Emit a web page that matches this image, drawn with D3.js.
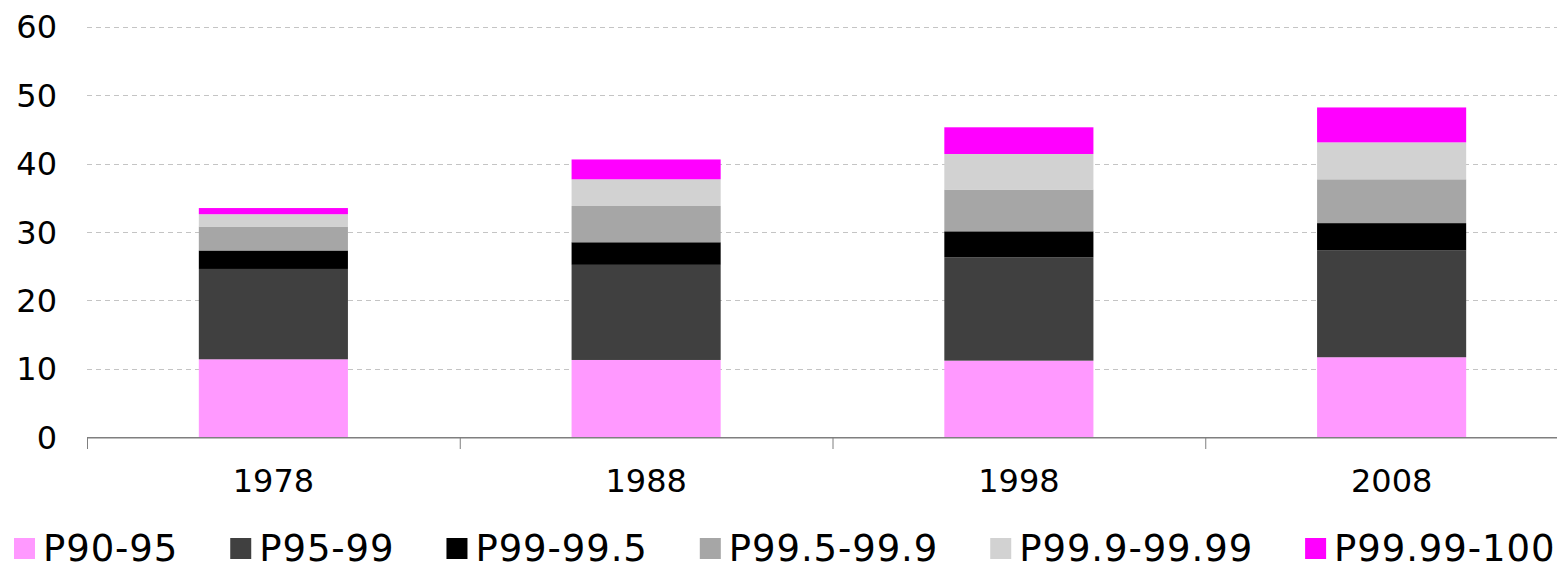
<!DOCTYPE html>
<meta charset="utf-8">
<style>
  body { margin: 0; background: #fff; }
  text { font-family: "DejaVu Sans", Verdana, sans-serif; fill: #000; }
</style>
<svg id="mainsvg" width="1557" height="564"></svg>
<script src="https://d3js.org/d3.v7.min.js"></script>
<script>

// data (share of income, %)
years = ["1978", "1988", "1998", "2008"]
seriesNames = ["P90-95", "P95-99", "P99-99.5", "P99.5-99.9", "P99.9-99.99", "P99.99-100"]
seriesColors = ["#ff99ff", "#404040", "#000000", "#a6a6a6", "#d2d2d2", "#ff00ff"]
p90_95      = [11.4, 11.3, 11.2, 11.7]
p95_99      = [13.2, 13.9, 15.1, 15.6]
p99_995     = [2.7, 3.3, 3.8, 4.0]
p995_999    = [3.5, 5.3, 6.1, 6.4]
p999_9999   = [1.8, 3.9, 5.2, 5.4]
p9999_100   = [0.9, 2.9, 3.9, 5.1]
yTicks = [0, 10, 20, 30, 40, 50, 60]

seriesValues = [p90_95, p95_99, p99_995, p995_999, p999_9999, p9999_100]

// table for d3.stack
table = years.map((y, i) => {
  const row = { year: y }
  seriesNames.forEach((s, j) => { row[s] = seriesValues[j][i] })
  return row
})

const svg = d3.select("#mainsvg")
const W = 1557

const x = d3.scaleBand()
    .domain(years)
    .range([87, 1578])
    .paddingInner(0.6)
    .paddingOuter(0.3)

const y = d3.scaleLinear()
    .domain([0, 60])
    .range([437.3, 26.7])

// grid lines
svg.append("g")
  .selectAll("line")
  .data(yTicks.filter(d => d > 0))
  .join("line")
    .attr("x1", 87)
    .attr("x2", W)
    .attr("y1", d => Math.round(y(d)) + 0.5)
    .attr("y2", d => Math.round(y(d)) + 0.5)
    .attr("stroke", "#c4c4c4")
    .attr("stroke-width", 1)
    .attr("stroke-dasharray", "5,4")

// y labels
svg.append("g")
  .selectAll("text")
  .data(yTicks)
  .join("text")
    .attr("x", 57)
    .attr("y", d => y(d))
    .attr("dy", "0.36em")
    .attr("text-anchor", "end")
    .style("font-size", "32px")
    .text(d => d)

// stacked bars
const stacked = d3.stack().keys(seriesNames)(table)

svg.append("g")
  .selectAll("g")
  .data(stacked)
  .join("g")
    .attr("fill", (d, i) => seriesColors[i])
  .selectAll("rect")
  .data(d => d)
  .join("rect")
    .attr("x", d => x(d.data.year))
    .attr("width", x.bandwidth())
    .attr("y", d => y(d[1]))
    .attr("height", d => y(d[0]) - y(d[1]))

// x axis
const step = x.step()
const axis = svg.append("g").attr("stroke", "#7f7f7f").attr("stroke-width", 1.5)
axis.append("line")
    .attr("x1", 87).attr("x2", W)
    .attr("y1", 437.8).attr("y2", 437.8)
axis.selectAll("line.tick")
  .data(years)
  .join("line")
    .attr("class", "tick")
    .attr("x1", (d, i) => 87 + i * step + 0.5)
    .attr("x2", (d, i) => 87 + i * step + 0.5)
    .attr("y1", 437.8)
    .attr("y2", 449)
    .attr("stroke-width", 1)

svg.append("g")
  .selectAll("text")
  .data(years)
  .join("text")
    .attr("x", d => x(d) + x.bandwidth() / 2)
    .attr("y", 491.7)
    .attr("text-anchor", "middle")
    .style("font-size", "32px")
    .text(d => d)

// legend
const legend = svg.append("g")
let lx = 14
seriesNames.forEach((name, i) => {
  legend.append("rect")
    .attr("x", lx)
    .attr("y", 538)
    .attr("width", 21)
    .attr("height", 21)
    .attr("fill", seriesColors[i])
  const t = legend.append("text")
    .attr("x", lx + 29)
    .attr("y", 560.5)
    .style("font-size", "37px")
    .style("letter-spacing", "0.9px")
    .text(name)
  lx = lx + 29 + t.node().getComputedTextLength() + 52
})

</script>
